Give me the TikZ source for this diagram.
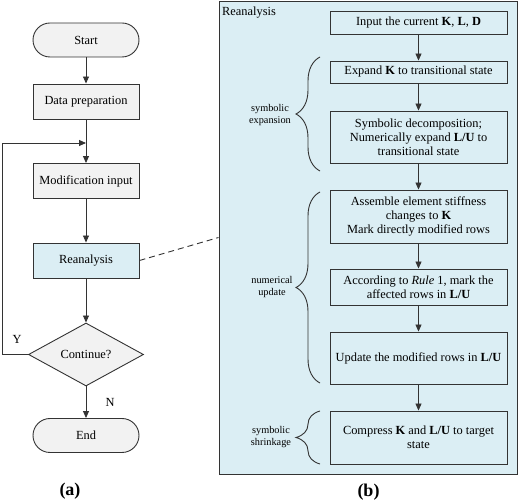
\documentclass[tikz,border=0pt]{standalone}
\usepackage{fontspec}
\setmainfont{Liberation Serif}
\usetikzlibrary{arrows.meta,shapes.geometric,decorations.pathreplacing}
\definecolor{lblue}{HTML}{DBEEF4}
\definecolor{lgray}{HTML}{F2F2F2}
\definecolor{edge}{HTML}{333333}
\begin{document}
\begin{tikzpicture}[x=1pt,y=-1pt,
  every node/.style={font=\fontsize{12.4}{14.2}\selectfont},
  box/.style={draw=edge, line width=0.9pt, fill=lgray, minimum width=106pt, minimum height=35pt, inner sep=0pt},
  term/.style={box, rounded corners=17pt, minimum height=34pt},
  rbox/.style={draw=edge, line width=0.9pt, fill=lblue, minimum width=177pt, align=center, inner sep=0pt},
  arr/.style={draw=edge, line width=0.9pt, -{Triangle[length=7pt,width=6pt]}},
  brc/.style={draw=edge, line width=0.9pt, decorate, decoration={brace, amplitude=24pt}},
  small/.style={font=\fontsize{10.3}{12}\selectfont, align=center, inner sep=0pt},
  figlabel/.style={font=\fontsize{18}{20}\selectfont\bfseries, inner sep=0pt}]
\useasboundingbox (0,0) rectangle (520,502);
% panel
\node[draw=edge, fill=lblue, line width=0.9pt, minimum width=298pt, minimum height=473pt, inner sep=0pt] (panel) at (368,237.5) {};
\node[anchor=west, inner sep=0pt] (ptitle) at (222,12.5) {Reanalysis};
% left flowchart
\node[term] (start) at (86,40) {Start};
\node[box] (data) at (86,101.5) {Data preparation};
\node[box] (mod) at (86,181) {Modification input};
\node[box, fill=lblue] (rean) at (86,260.5) {Reanalysis};
\node[diamond, draw=edge, fill=lgray, line width=0.9pt, minimum width=115pt, minimum height=63pt, inner sep=0pt] (dec) at (86,354.5) {Continue?};
\node[term] (end) at (86,435.5) {End};
\coordinate (join) at (86,143);
\coordinate (loopc) at (2,143);
\draw[arr] (start) -- (data);
\draw[arr] (data) -- (mod);
\draw[arr] (mod) -- (rean);
\draw[arr] (rean) -- (dec);
\draw[arr] (dec) -- (end);
\draw[arr] (dec.west) -- (dec.west -| loopc) -- (loopc) -- (join);
\node (ylab) at (17,339) {Y};
\node (nlab) at (110,402) {N};
\node[figlabel] (la) at (70,491) {(a)};
\node[figlabel] (lb) at (368.5,492) {(b)};
\draw[draw=edge, line width=0.9pt, dash pattern=on 6pt off 4pt] (rean.east) -- (panel.west);
% right boxes
\node[rbox, minimum height=23pt] (b1) at (418.5,22.5) {Input the current \textbf{K}, \textbf{L}, \textbf{D}};
\node[rbox, minimum height=22pt] (b2) at (418.5,72) {Expand \textbf{K} to transitional state};
\node[rbox, minimum height=52pt] (b3) at (418.5,137) {Symbolic decomposition;\\Numerically expand \textbf{L/U} to\\transitional state};
\node[rbox, minimum height=53pt] (b4) at (418.5,216.5) {Assemble element stiffness\\changes to \textbf{K}\\Mark directly modified rows};
\node[rbox, minimum height=36pt] (b5) at (418.5,287) {According to \textit{Rule} 1, mark the\\affected rows in \textbf{L/U}};
\node[rbox, minimum height=52pt] (b6) at (418.5,358) {Update the modified rows in \textbf{L/U}};
\node[rbox, minimum height=53pt] (b7) at (418.5,437.5) {Compress \textbf{K} and \textbf{L/U} to target\\state};
\draw[arr] (b1) -- (b2);
\draw[arr] (b2) -- (b3);
\draw[arr] (b3) -- (b4);
\draw[arr] (b4) -- (b5);
\draw[arr] (b5) -- (b6);
\draw[arr] (b6) -- (b7);
% braces
\coordinate (s1) at (320,171);
\coordinate (t1) at (320,57);
\coordinate (s2) at (320,383);
\coordinate (t2) at (320,192);
\coordinate (s3) at (320,464);
\coordinate (t3) at (320,411);
\draw[brc] (s1) -- (t1);
\draw[brc] (s2) -- (t2);
\draw[brc] (s3) -- (t3);
\node[small] (l1) at (270,115.5) {symbolic\\expansion};
\node[small] (l2) at (272,287.5) {numerical\\update};
\node[small] (l3) at (271,437) {symbolic\\shrinkage};
\end{tikzpicture}
\end{document}
